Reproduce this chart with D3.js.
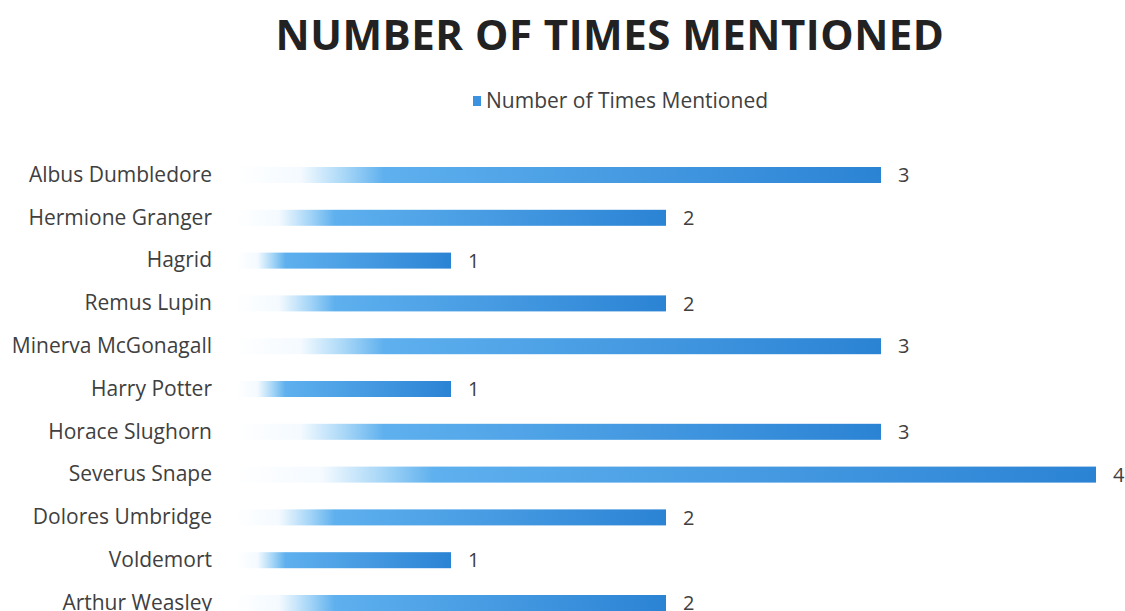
<!DOCTYPE html>
<html>
<head>
<meta charset="utf-8">
<script src="https://cdn.jsdelivr.net/npm/d3@7"></script>
<style>
  body { margin: 0; background: #fff; }
  svg { display: block; font-family: "Open Sans", sans-serif; }
</style>
</head>
<body>
<div id="chart"></div>
<script>
const names = ["Albus Dumbledore", "Hermione Granger", "Hagrid", "Remus Lupin",
  "Minerva McGonagall", "Harry Potter", "Horace Slughorn", "Severus Snape",
  "Dolores Umbridge", "Voldemort", "Arthur Weasley"];
const mentions = [3, 2, 1, 2, 3, 1, 3, 4, 2, 1, 2];
const seriesName = "Number of Times Mentioned";

const width = 1125, height = 611;

const svg = d3.select("#chart").append("svg")
  .attr("width", width)
  .attr("height", height);

const x = d3.scaleLinear().domain([0, 4]).range([236, 1096]);
const y = d3.scaleBand().domain(names).range([153.6, 624.4])
  .paddingInner(0.626).paddingOuter(0.313);

// gradient fill: white at the left edge fading into blue
const grad = svg.append("defs").append("linearGradient")
  .attr("id", "barGrad")
  .attr("x1", "0%").attr("x2", "100%").attr("y1", "0%").attr("y2", "0%");
grad.append("stop").attr("offset", "0%").attr("stop-color", "#ffffff");
grad.append("stop").attr("offset", "10%").attr("stop-color", "#f4faff");
grad.append("stop").attr("offset", "17%").attr("stop-color", "#a6d6f7");
grad.append("stop").attr("offset", "23%").attr("stop-color", "#5eb0ee");
grad.append("stop").attr("offset", "100%").attr("stop-color", "#2b83d4");

svg.append("text")
  .attr("x", 610)
  .attr("y", 50)
  .attr("text-anchor", "middle")
  .attr("fill", "#222")
  .style("font-size", "42px")
  .style("font-weight", "700")
  .style("letter-spacing", "0.5px")
  .text("NUMBER OF TIMES MENTIONED");

// legend
const leg = svg.append("g").attr("transform", "translate(473,96)");
leg.append("rect").attr("width", 8).attr("height", 10).attr("fill", "#3a92e0");
leg.append("text").attr("x", 13).attr("y", 12)
  .attr("fill", "#404040")
  .style("font-size", "21px")
  .text(seriesName);

svg.append("g")
  .selectAll("rect")
  .data(names)
  .join("rect")
  .attr("x", x(0))
  .attr("y", d => y(d))
  .attr("width", (d, i) => x(mentions[i]) - x(0))
  .attr("height", y.bandwidth())
  .attr("fill", "url(#barGrad)");

svg.append("g")
  .selectAll("text")
  .data(names)
  .join("text")
  .attr("x", (d, i) => x(mentions[i]) + 17)
  .attr("y", d => y(d) + y.bandwidth() / 2)
  .attr("dy", "0.36em")
  .attr("fill", "#404040")
  .style("font-size", "20px")
  .text((d, i) => mentions[i]);

svg.append("g")
  .attr("transform", "translate(212,0)")
  .call(d3.axisLeft(y).tickSize(0).tickPadding(0))
  .call(g => g.select(".domain").remove())
  .call(g => g.selectAll("text")
    .attr("fill", "#404040")
    .style("font-family", "'Open Sans', sans-serif")
    .style("font-size", "21px"));
</script>
</body>
</html>
